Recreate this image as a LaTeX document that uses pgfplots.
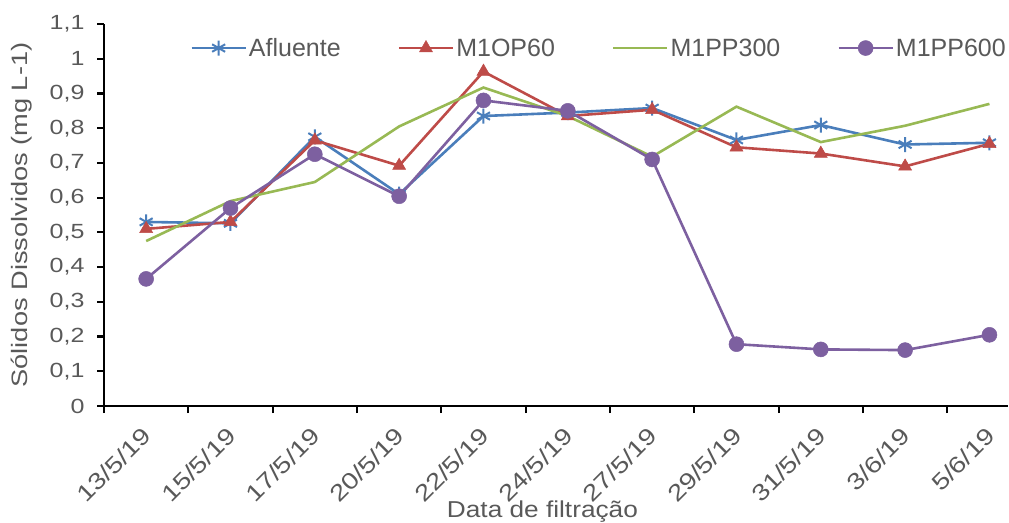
\documentclass[border=0pt]{standalone}
\usepackage{pgfplots}
\pgfplotsset{compat=1.18}
\usepackage{fontspec}
\setmainfont{Liberation Sans}
\newfontfamily\wf{Liberation Sans}[FakeStretch=1.22]
\newfontfamily\wfx{Liberation Sans}[FakeStretch=1.14]
\definecolor{cblue}{HTML}{4A7EBB}
\definecolor{cred}{HTML}{BE4B48}
\definecolor{cgreen}{HTML}{98B954}
\definecolor{cpurple}{HTML}{7D60A0}
\definecolor{tgray}{HTML}{595959}
\begin{document}
\begin{tikzpicture}
\begin{axis}[
  name=ax,
  scale only axis, width=904pt, height=382pt,
  xmin=-0.5, xmax=10.22, ymin=0, ymax=1.1,
  axis x line*=bottom, axis y line*=left,
  axis line style={line width=2.8pt, -},
  xtick={0,...,10},
  xticklabels={13/5/19,15/5/19,17/5/19,20/5/19,22/5/19,24/5/19,27/5/19,29/5/19,31/5/19,3/6/19,5/6/19},
  major x tick style={draw=none},
  minor xtick={-0.5,0.5,...,9.5},
  minor tick length=7pt,
  minor x tick style={line width=2.2pt, black},
  x tick label style={xshift=-5pt, yshift=-11pt, rotate=45, anchor=north east, font=\wf\fontsize{23}{26}\selectfont, text=tgray, inner sep=1pt},
  ytick={0,0.1,...,1.1},
  y tick label style={xshift=-9pt, font=\wf\fontsize{20.5}{24}\selectfont, text=tgray},
  yticklabel={\pgfmathprintnumber[assume math mode=true,fixed,precision=1,use comma]{\tick}},
  major y tick style={line width=2.2pt, black},
  major tick length=7pt,
  tick align=outside,
  xlabel={Data de filtração},
  xlabel style={font=\wfx\fontsize{23}{26}\selectfont, text=tgray, at={(axis description cs:0.485,0)}, anchor=north, inner sep=0pt, yshift=-95pt},
  ylabel={Sólidos Dissolvidos (mg L-1)},
  ylabel style={font=\wf\fontsize{22.3}{26}\selectfont, text=tgray, at={(axis description cs:-0.0915,0.5)}, anchor=center, inner sep=0pt},
  legend columns=4,
  legend style={draw=none, fill=none, at={(axis description cs:0.092,0.937)}, anchor=west, font=\fontsize{25}{28}\selectfont, text=tgray, nodes={inner sep=2pt}, /tikz/every even column/.append style={column sep=55pt}},
  legend image code/.code={\draw[#1, mark repeat=2, mark phase=2] plot coordinates {(0pt,0pt) (27pt,0pt) (54pt,0pt)};},
  every axis plot/.append style={line width=2.6pt},
  clip=false,
]
\addplot[cblue, mark=asterisk, mark size=7.5pt, mark options={line width=2pt}] coordinates {
(0,0.530) (1,0.526) (2,0.775) (3,0.610) (4,0.835) (5,0.845) (6,0.858) (7,0.766) (8,0.809) (9,0.753) (10,0.758)};
\addlegendentry{Afluente}
\addplot[cred, mark=triangle*, mark size=7.5pt, mark options={line width=0.5pt}] coordinates {
(0,0.510) (1,0.530) (2,0.765) (3,0.692) (4,0.963) (5,0.835) (6,0.853) (7,0.745) (8,0.727) (9,0.690) (10,0.755)};
\addlegendentry{M1OP60}
\addplot[cgreen, no marks] coordinates {
(0,0.475) (1,0.590) (2,0.645) (3,0.805) (4,0.917) (5,0.835) (6,0.718) (7,0.862) (8,0.760) (9,0.807) (10,0.870)};
\addlegendentry{M1PP300}
\addplot[cpurple, mark=*, mark size=7.5pt, mark options={line width=0.5pt}] coordinates {
(0,0.366) (1,0.570) (2,0.725) (3,0.604) (4,0.880) (5,0.850) (6,0.710) (7,0.178) (8,0.163) (9,0.161) (10,0.205)};
\addlegendentry{M1PP600}
\end{axis}
\pgfresetboundingbox
\path ([shift={(-104pt,-116pt)}]ax.south west) rectangle ([shift={(1pt,24pt)}]ax.north east);
\end{tikzpicture}
\end{document}
